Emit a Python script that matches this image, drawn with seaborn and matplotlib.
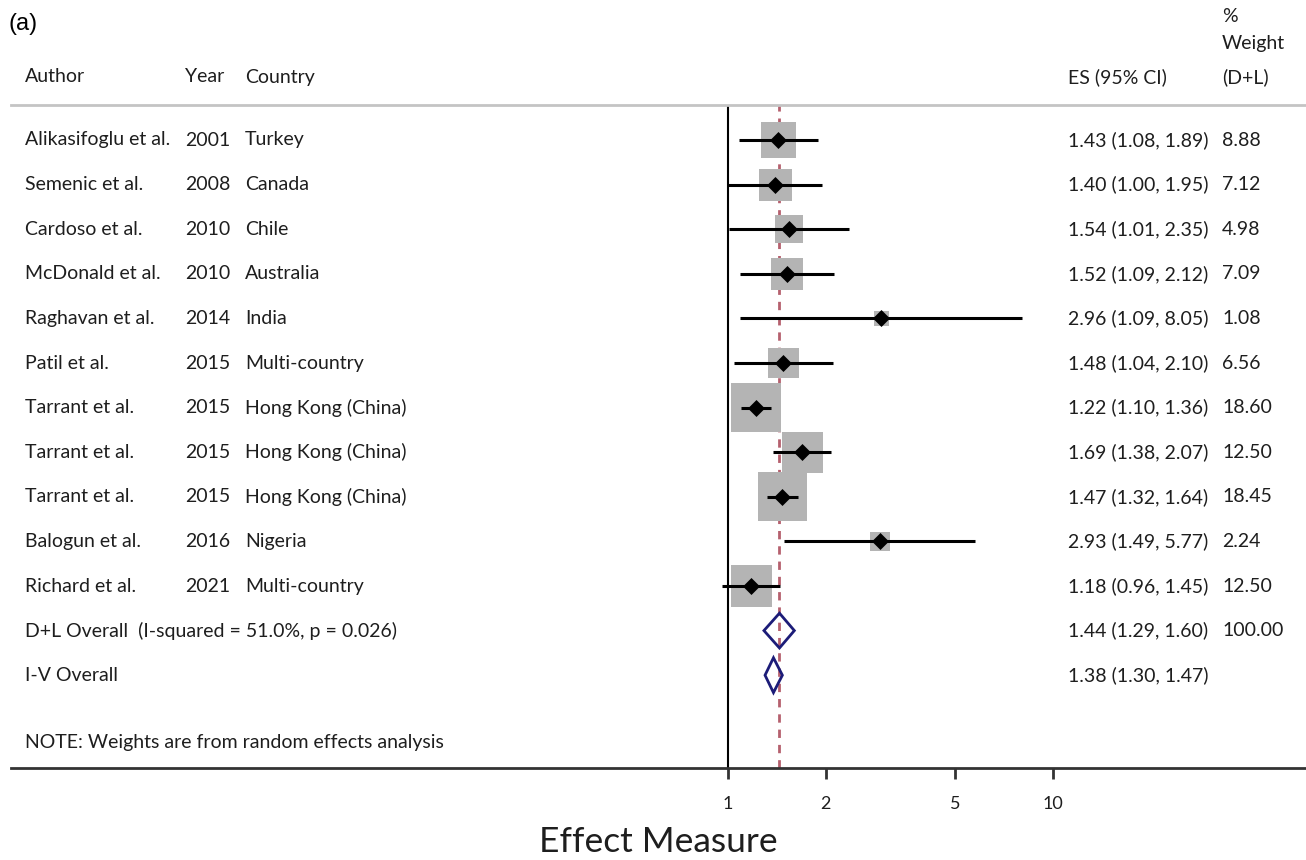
import numpy as np
import pandas as pd
import matplotlib
matplotlib.use("Agg")
import matplotlib.pyplot as plt
import matplotlib.transforms as mtransforms
from matplotlib.patches import Polygon
import seaborn as sns

# study-level data
authors = ["Alikasifoglu et al.", "Semenic et al.", "Cardoso et al.", "McDonald et al.",
           "Raghavan et al.", "Patil et al.", "Tarrant et al.", "Tarrant et al.",
           "Tarrant et al.", "Balogun et al.", "Richard et al."]
years = [2001, 2008, 2010, 2010, 2014, 2015, 2015, 2015, 2015, 2016, 2021]
countries = ["Turkey", "Canada", "Chile", "Australia", "India", "Multi-country",
             "Hong Kong (China)", "Hong Kong (China)", "Hong Kong (China)", "Nigeria",
             "Multi-country"]
es = [1.43, 1.40, 1.54, 1.52, 2.96, 1.48, 1.22, 1.69, 1.47, 2.93, 1.18]
ci_low = [1.08, 1.00, 1.01, 1.09, 1.09, 1.04, 1.10, 1.38, 1.32, 1.49, 0.96]
ci_high = [1.89, 1.95, 2.35, 2.12, 8.05, 2.10, 1.36, 2.07, 1.64, 5.77, 1.45]
weights = [8.88, 7.12, 4.98, 7.09, 1.08, 6.56, 18.60, 12.50, 18.45, 2.24, 12.50]

# pooled estimates
dl_overall = [1.44, 1.29, 1.60]
iv_overall = [1.38, 1.30, 1.47]
i_squared = 51.0
p_het = 0.026

xticks = [1, 2, 5, 10]

df = pd.DataFrame({"author": authors, "year": years, "country": countries,
                   "es": es, "lo": ci_low, "hi": ci_high, "w": weights})
df["row"] = np.arange(len(df))

sns.set_theme(style="white")
plt.rcParams["font.family"] = ["Lato", "DejaVu Sans"]
txt_color = "#1e1e1e"

W, H = 1306, 860
fig = plt.figure(figsize=(W / 100, H / 100), dpi=100)
ax = fig.add_axes([11 / W, (H - 768) / H, 1 - 11 / W, (768 - 105) / H])

x1_px, decade_px = 728, 325
ax.set_xscale("log")
ax.set_xlim(10 ** ((11 - x1_px) / decade_px), 10 ** ((W - x1_px) / decade_px))
row0_px, step_px = 140, 44.6
ax.set_ylim((768 - row0_px) / step_px, (105 - row0_px) / step_px)

# reference lines
ax.axvline(1, color="black", lw=1.5, zorder=1)
ax.axvline(dl_overall[0], color="#b5606e", lw=2, ls=(0, (3, 2.5)), zorder=1)

# weight boxes (side grows with sqrt of weight)
side_pt = (10.5 * np.sqrt(df["w"]) + 4) * 0.72
ax.scatter(df["es"], df["row"], s=side_pt ** 2, marker="s", color="#b4b4b4",
           linewidths=0, zorder=2)

# confidence intervals and point estimates
ax.hlines(df["row"], df["lo"], df["hi"], color="black", lw=2.2, zorder=3)
sns.scatterplot(data=df, x="es", y="row", marker="D", color="black", s=75,
                linewidth=0, ax=ax, zorder=4, legend=False)

# pooled diamonds
n = len(df)
for k, (m, lo, hi) in enumerate([dl_overall, iv_overall]):
    y = n + k
    h = 0.39
    ax.add_patch(Polygon([(lo, y), (m, y - h), (hi, y), (m, y + h)], closed=True,
                         facecolor="none", edgecolor="#1c1c78", lw=2, zorder=4))

# axes styling
for side in ["left", "right"]:
    ax.spines[side].set_visible(False)
ax.spines["top"].set_color("#c4c4c4")
ax.spines["top"].set_linewidth(2)
ax.spines["bottom"].set_color("#333333")
ax.spines["bottom"].set_linewidth(2)
ax.set_xticks(xticks)
ax.set_xticklabels([str(t) for t in xticks])
ax.xaxis.set_minor_locator(matplotlib.ticker.NullLocator())
ax.set_yticks([])
ax.set_ylabel("")
ax.tick_params(axis="x", direction="out", length=8, width=2, color="#333333",
               labelsize=13, labelcolor=txt_color, pad=12, bottom=True)
ax.set_xlabel("Effect Measure", fontsize=25.5, color=txt_color, labelpad=10)
ax.grid(False)

# text columns
tr = mtransforms.blended_transform_factory(fig.transFigure, ax.transData)
fs = 14
col_author, col_year, col_country = 25 / W, 185 / W, 245 / W
col_es, col_w = 1068 / W, 1222 / W


def put(x, y, s, **kw):
    ax.text(x, y, s, transform=tr, fontsize=fs, color=txt_color, va="center",
            ha="left", clip_on=False, **kw)


hdr = (77 - row0_px) / step_px
put(col_author, hdr, "Author")
put(col_year, hdr, "Year")
put(col_country, hdr, "Country")
put(col_es, hdr, "ES (95% CI)")
put(col_w, hdr, "(D+L)")
put(col_w, (44 - row0_px) / step_px, "Weight")
put(col_w, (17 - row0_px) / step_px, "%")

for _, r in df.iterrows():
    put(col_author, r["row"], r["author"])
    put(col_year, r["row"], str(r["year"]))
    put(col_country, r["row"], r["country"])
    put(col_es, r["row"], f"{r['es']:.2f} ({r['lo']:.2f}, {r['hi']:.2f})")
    put(col_w, r["row"], f"{r['w']:.2f}")

put(col_author, n, f"D+L Overall  (I-squared = {i_squared:.1f}%, p = {p_het:.3f})")
put(col_es, n, "{:.2f} ({:.2f}, {:.2f})".format(*dl_overall))
put(col_w, n, f"{sum(weights):.2f}")
put(col_author, n + 1, "I-V Overall")
put(col_es, n + 1, "{:.2f} ({:.2f}, {:.2f})".format(*iv_overall))
put(col_author, n + 2.5, "NOTE: Weights are from random effects analysis")

fig.text(8 / W, 1 - 24 / H, "(a)", fontsize=17, family="Liberation Sans",
         color="black", va="center", ha="left")

fig.savefig("out.png", dpi=100)
